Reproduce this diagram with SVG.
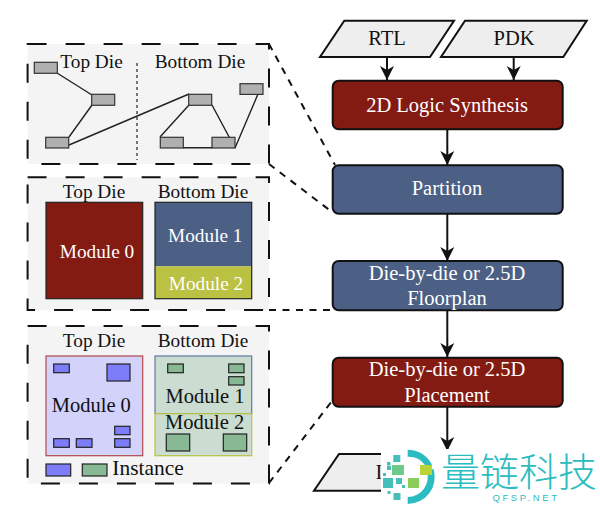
<svg xmlns="http://www.w3.org/2000/svg" width="600" height="509" viewBox="0 0 600 509">
<style>
text{font-family:"Liberation Serif","Times New Roman",serif;font-size:19.3px;text-anchor:middle;fill:#111}
.w{fill:#fff}
.f{font-size:20.5px}
.panel{fill:#f4f4f4;stroke:none}
.dash{fill:none;stroke:#111;stroke-width:2;stroke-dasharray:19 19}
.lead{fill:none;stroke:#111;stroke-width:2;stroke-dasharray:7 6.5}
.cell{fill:#b0b0b0;stroke:#333;stroke-width:1.2}
.wire{fill:none;stroke:#222;stroke-width:1.4}
.box{stroke:#111;stroke-width:2}
.red{fill:#841b13}.blue{fill:#4b6084}
.io{fill:#eee;stroke:#111;stroke-width:2}
.edge{fill:none;stroke:#111;stroke-width:2;marker-end:url(#a)}
.ib{fill:#7d7dfa;stroke:#222;stroke-width:1.2}
.ig{fill:#88b894;stroke:#222;stroke-width:1.2}
.t{fill:#2abcc0}
.q{fill:#45bfb8}
</style>
<defs><marker id="a" markerUnits="userSpaceOnUse" markerWidth="16" markerHeight="16" refX="14" refY="8" orient="auto"><path d="M0 1L14 8L0 15L4 8Z" fill="#111"/></marker></defs>
<g id="panel-partition">
<rect class="panel" x="27.6" y="44" width="241.4" height="120"/>
<rect class="dash" x="27.6" y="44" width="241.4" height="120"/>
<text x="91.5" y="68">Top Die</text><text x="200" y="68">Bottom Die</text>
<path d="M137 63V160" fill="none" stroke="#222" stroke-width="1.2" stroke-dasharray="3 3"/>
<path class="wire" d="M57 73L92 95M92 105L69 137M69 145L189 94M189 105L160 137M212 105L235 148M258 94L235 148M183 147.7H212"/>
<rect class="cell" x="34.3" y="62.3" width="23" height="11"/>
<rect class="cell" x="91.7" y="94.3" width="23" height="11"/>
<rect class="cell" x="45.7" y="137.3" width="23" height="10.7"/>
<rect class="cell" x="240" y="83.7" width="23" height="10.7"/>
<rect class="cell" x="188.7" y="94.3" width="23" height="11"/>
<rect class="cell" x="160.3" y="137.3" width="23" height="10.7"/>
<rect class="cell" x="212" y="137.3" width="23" height="10.7"/>
</g>
<g id="panel-floorplan">
<rect class="panel" x="27.6" y="177.3" width="241.4" height="132.7"/>
<rect class="dash" x="27.6" y="177.3" width="241.4" height="132.7"/>
<text x="94" y="197.5">Top Die</text><text x="203" y="197.5">Bottom Die</text>
<rect x="46" y="202.3" width="96.7" height="96.4" fill="#841b13" stroke="#222" stroke-width="1.2"/>
<rect x="155" y="202.3" width="96.7" height="64" fill="#4b6084"/>
<rect x="155" y="266.3" width="96.7" height="32.4" fill="#bac143"/>
<rect x="155" y="202.3" width="96.7" height="96.4" fill="none" stroke="#222" stroke-width="1.2"/>
<text class="w" x="97" y="257.5">Module 0</text><text class="w" x="205.3" y="241.7">Module 1</text><text class="w" x="206" y="290">Module 2</text>
</g>
<g id="panel-placement">
<rect class="panel" x="27.6" y="326" width="241.4" height="157.5"/>
<rect class="dash" x="27.6" y="326" width="241.4" height="157.5"/>
<text x="94" y="347">Top Die</text><text x="203" y="347">Bottom Die</text>
<rect x="46" y="356" width="96.7" height="99.7" fill="#d2d2fb" stroke="#b24a4a" stroke-width="1.2"/>
<rect x="155" y="356" width="96.7" height="57.7" fill="#cbdcd0" stroke="#5f7ba0" stroke-width="1.2"/>
<rect x="155" y="413.7" width="96.7" height="42" fill="#cbdcd0" stroke="#bac143" stroke-width="1.2"/>
<text class="f" x="91.3" y="411.5">Module 0</text><text class="f" x="205" y="403">Module 1</text><text class="f" x="204.7" y="429">Module 2</text>
<rect class="ib" x="53.7" y="364" width="15.6" height="8.7"/><rect class="ib" x="107" y="364" width="23" height="17"/>
<rect class="ib" x="114.7" y="426.3" width="15.3" height="8.4"/><rect class="ib" x="114.7" y="438.7" width="15.3" height="8.6"/>
<rect class="ib" x="53.7" y="438.7" width="15.6" height="8.6"/><rect class="ib" x="76.3" y="438.7" width="15.7" height="8.6"/>
<rect class="ig" x="167.7" y="364" width="15.6" height="8.7"/><rect class="ig" x="228.7" y="364" width="15.3" height="8.7"/>
<rect class="ig" x="228.7" y="376.7" width="15.3" height="8.3"/><rect class="ig" x="166.3" y="434" width="23.4" height="17"/>
<rect class="ig" x="223.3" y="434" width="23.4" height="17"/>
<rect class="ib" x="46" y="464" width="24.7" height="12"/><rect class="ig" x="82.3" y="464" width="24.7" height="12"/>
<text x="148" y="475" style="font-size:21.4px">Instance</text>
</g>
<g id="connectors">
<path class="lead" d="M269 44L335 165M269 164L332 212M269 310H333M269 483L332 401"/>
<path class="edge" d="M387 57V80"/><path class="edge" d="M513.7 57V80"/>
<path class="edge" d="M447.3 129V165"/><path class="edge" d="M447.3 214V261"/>
<path class="edge" d="M447.3 310V357"/><path class="edge" d="M447.3 407V451"/>
</g>
<g id="rtl"><path class="io" d="M344.3 20.7H454L430 57H320Z"/><text class="f" x="387" y="45">RTL</text></g>
<g id="pdk"><path class="io" d="M465 20.7H586.7L563.3 57H441Z"/><text class="f" x="514" y="45">PDK</text></g>
<g id="synthesis"><rect class="box red" x="332.7" y="80.7" width="230" height="48.6" rx="6"/><text class="w f" x="447" y="111.7">2D Logic Synthesis</text></g>
<g id="partition"><rect class="box blue" x="332.7" y="165.3" width="230" height="48.4" rx="6"/><text class="w f" x="447" y="195">Partition</text></g>
<g id="floorplan"><rect class="box blue" x="332.7" y="261" width="230" height="49.3" rx="6"/><text class="w f" x="447" y="279.5">Die-by-die or 2.5D</text><text class="w f" x="447" y="305">Floorplan</text></g>
<g id="placement"><rect class="box red" x="332.7" y="357.7" width="230" height="49" rx="6"/><text class="w f" x="447" y="376">Die-by-die or 2.5D</text><text class="w f" x="447" y="401.5">Placement</text></g>
<g id="output"><path class="io" d="M339 454H440L416 490.7H314Z"/><text class="f" x="379" y="479">I</text></g>
<g id="watermark">
<rect x="381" y="449" width="219" height="60" fill="#fff"/>
<path class="t" d="M407.7 449.7A27 27 0 0 1 432 465L425 465A20 20 0 0 0 407.7 456.7Z"/>
<path class="t" d="M433.5 469A27 27 0 0 1 407.7 504L407.7 497A20 20 0 0 0 426.5 470Z"/>
<rect class="q" x="393.3" y="455" width="7" height="7"/><rect class="q" x="387" y="462" width="3.5" height="3.5"/>
<rect class="q" x="383" y="473" width="3" height="3"/><rect class="q" x="387" y="466" width="4" height="4"/>
<rect x="392" y="465" width="12" height="10" fill="#6fc98a"/>
<rect class="q" x="383" y="478" width="10" height="10"/><rect class="q" x="396" y="478" width="6" height="6"/>
<rect x="408" y="478" width="11" height="10" fill="#8ccc5a"/><rect x="420" y="465" width="12" height="10" fill="#b8d438"/>
<rect class="q" x="393.5" y="493" width="7" height="7"/><rect class="q" x="387.5" y="491" width="3" height="3"/><rect class="q" x="402" y="485" width="3" height="3"/>
<text class="t" x="519" y="486" style="font-family:'Noto Sans CJK SC',sans-serif;font-size:39px;font-weight:300">量链科技</text>
<text class="t" x="526" y="501" style="font-family:'Liberation Sans',sans-serif;font-size:9.5px;letter-spacing:2.6px">QFSP.NET</text>
</g>
</svg>
